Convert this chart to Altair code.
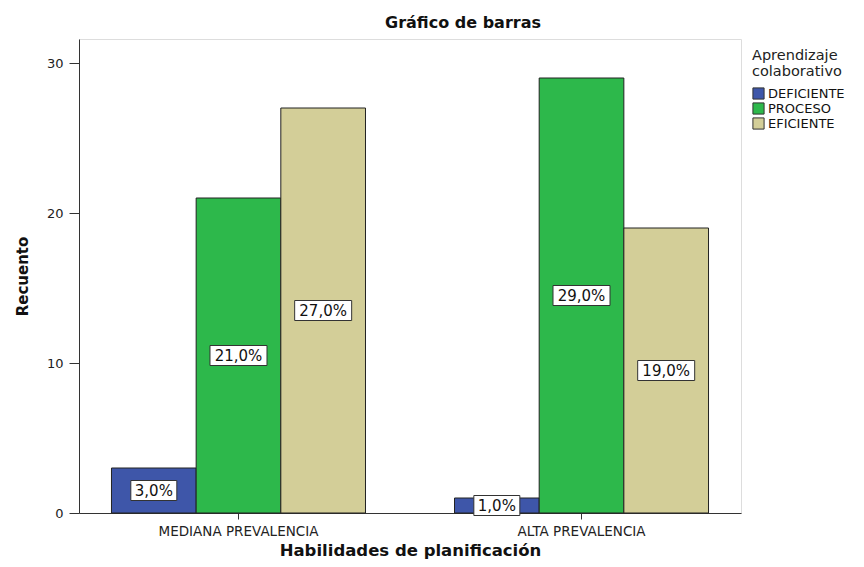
import altair as alt
import pandas as pd

groups = ["MEDIANA PREVALENCIA", "ALTA PREVALENCIA"]
series = ["DEFICIENTE", "PROCESO", "EFICIENTE"]
counts_mediana = [3, 21, 27]
counts_alta = [1, 29, 19]
labels_mediana = ["3,0%", "21,0%", "27,0%"]
labels_alta = ["1,0%", "29,0%", "19,0%"]
colors = ["#3E56A9", "#2DB84B", "#D3CE98"]

rows = []
for g, cs, ls in [(groups[0], counts_mediana, labels_mediana), (groups[1], counts_alta, labels_alta)]:
    for s, c, l in zip(series, cs, ls):
        rows.append({"grupo": g, "serie": s, "recuento": c, "etiqueta": l})
df = pd.DataFrame(rows)

FONT = "DejaVu Sans"

x_enc = alt.X(
    "grupo:N", sort=groups,
    scale=alt.Scale(paddingInner=0.2595, paddingOuter=0.0947),
    axis=alt.Axis(title="Habilidades de planificación", labelAngle=0, tickSize=6,
                  labelPadding=5, labelFontSize=13.5, labelColor="#222", labelFont=FONT,
                  titleFont=FONT, titleFontSize=16.5, titleFontWeight="bold", titleColor="#111",
                  titlePadding=5, domainColor="#333", tickColor="#333"),
)
xo_enc = alt.XOffset("serie:N", sort=series, scale=alt.Scale(paddingInner=0, paddingOuter=0))

y_scale = alt.Scale(domain=[0, 31.6], nice=False, zero=True)

bars = alt.Chart(df).mark_bar(stroke="#222", strokeWidth=1).encode(
    x=x_enc,
    xOffset=xo_enc,
    y=alt.Y("recuento:Q", scale=y_scale,
            axis=alt.Axis(title="Recuento", values=[0, 10, 20, 30], grid=False, tickSize=10,
                          labelPadding=6, labelFontSize=13, labelColor="#222", labelFont=FONT,
                          titleFont=FONT, titleFontSize=15, titleFontWeight="bold", titleColor="#111",
                          titlePadding=16, domainColor="#333", tickColor="#333")),
    color=alt.Color("serie:N", sort=series, scale=alt.Scale(domain=series, range=colors),
                    legend=alt.Legend(title=["Aprendizaje", "colaborativo"], orient="none",
                                      legendX=673, legendY=10, symbolType="square",
                                      symbolSize=125, symbolStrokeColor="#333",
                                      symbolStrokeWidth=1, symbolOpacity=1,
                                      titleFont=FONT, titleFontSize=14.5, titleFontWeight="normal",
                                      titleColor="#222", titleLineHeight=15.5, titlePadding=8,
                                      labelFont=FONT, labelFontSize=13, labelColor="#111",
                                      labelOffset=3, rowPadding=-2.5)),
)

lab_base = alt.Chart(df).transform_calculate(mid="datum.recuento / 2")

box_small = lab_base.transform_filter("datum.recuento < 10").mark_point(
    shape="M-23,-10H23V10H-23Z", size=4, filled=True, fill="white", stroke="#333",
    strokeWidth=1, opacity=1
).encode(x=alt.X("grupo:N", sort=groups), xOffset=alt.XOffset("serie:N", sort=series),
         y=alt.Y("mid:Q", scale=y_scale))

box_big = lab_base.transform_filter("datum.recuento >= 10").mark_point(
    shape="M-28.5,-10H28.5V10H-28.5Z", size=4, filled=True, fill="white", stroke="#333",
    strokeWidth=1, opacity=1
).encode(x=alt.X("grupo:N", sort=groups), xOffset=alt.XOffset("serie:N", sort=series),
         y=alt.Y("mid:Q", scale=y_scale))

texts = lab_base.mark_text(font=FONT, fontSize=15, color="#111", baseline="middle",
                           align="center").encode(
    x=alt.X("grupo:N", sort=groups), xOffset=alt.XOffset("serie:N", sort=series),
    y=alt.Y("mid:Q", scale=y_scale), text="etiqueta:N")

chart = alt.layer(bars, box_small, box_big, texts).properties(
    width=662, height=474,
    title=alt.TitleParams("Gráfico de barras", font=FONT, fontSize=16, fontWeight="bold",
                          color="#111", anchor="middle", frame="group", dx=53, offset=8),
    padding={"left": 71, "top": 31, "right": 115, "bottom": 46},
    autosize=alt.AutoSizeParams(type="none"),
).configure_view(fill="#F0F0F0", stroke="#333333", strokeWidth=1.5).configure(background="white")

chart.save("out.html", embed_options={"renderer": "svg", "actions": False})
